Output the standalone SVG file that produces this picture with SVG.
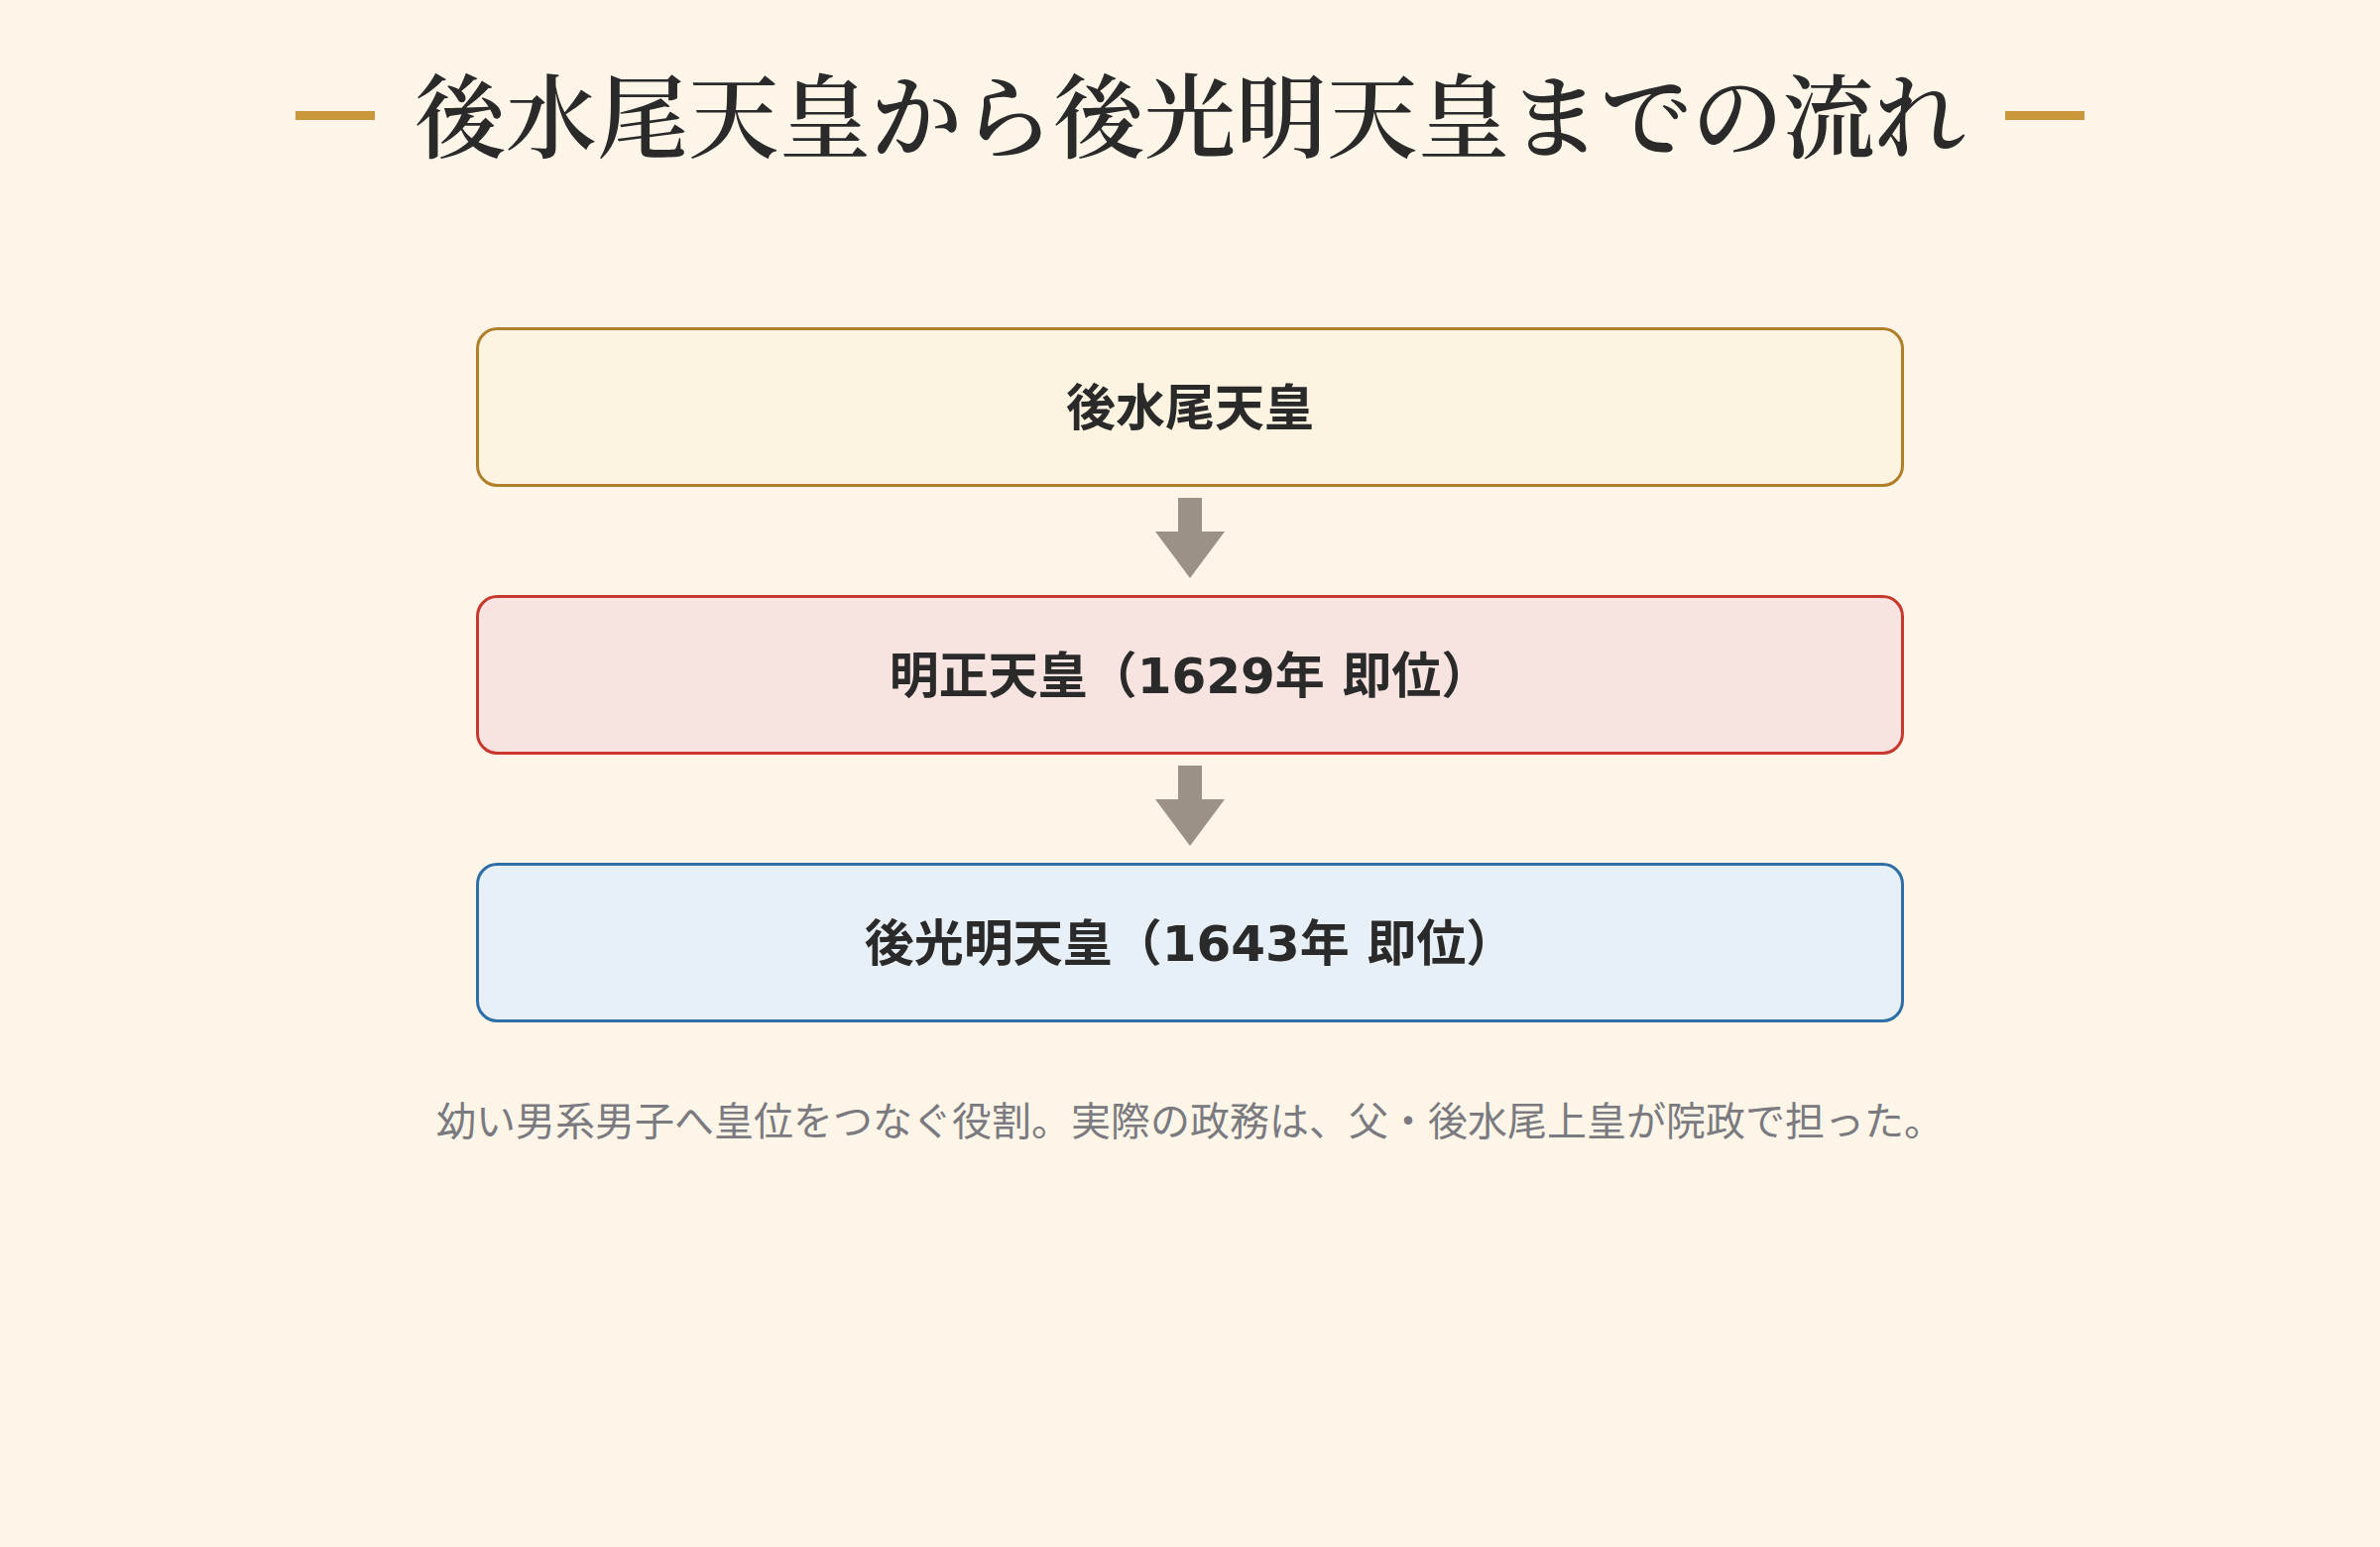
<svg xmlns="http://www.w3.org/2000/svg" width="2400" height="1560" viewBox="0 0 2400 1560">
  <style>
    .title { font-family: "Noto Serif CJK JP", "Noto Sans CJK JP", serif; font-size: 92px; font-weight: 600; fill: #2a2a2a; }
    .label { font-family: "DejaVu Sans", "Noto Sans CJK JP", sans-serif; font-size: 50px; font-weight: 700; fill: #2a2a2a; }
    .caption { font-family: "Noto Sans CJK JP", "Noto Sans", sans-serif; font-size: 40px; fill: #7a7a80; }
    .box { stroke-width: 3; }
    .arrow { fill: #9a9286; }
    .dash { fill: #c9973a; }
  </style>
  <rect x="0" y="0" width="2400" height="1560" fill="#fdf6e8"/>

  <g id="title">
    <rect class="dash" x="298" y="112" width="80" height="9"/>
    <rect class="dash" x="2022" y="112" width="80" height="9"/>
    <text class="title" x="1200" y="112" text-anchor="middle" dominant-baseline="central">後水尾天皇から後光明天皇までの流れ</text>
  </g>

  <g id="node-gomizunoo">
    <rect class="box" x="481.5" y="331.5" width="1437" height="158" rx="20" fill="#fcf3e0" stroke="#b07f2a"/>
    <text class="label" x="1200" y="412" text-anchor="middle" dominant-baseline="central">後水尾天皇</text>
  </g>

  <g id="node-meisho">
    <rect class="box" x="481.5" y="601.5" width="1437" height="158" rx="20" fill="#f7e4e1" stroke="#c8382e"/>
    <text class="label" x="1200" y="682" text-anchor="middle" dominant-baseline="central">明正天皇（1629年 即位）</text>
  </g>

  <g id="node-gokomyo">
    <rect class="box" x="481.5" y="871.5" width="1437" height="158" rx="20" fill="#e8f0f7" stroke="#2f6fa8"/>
    <text class="label" x="1200" y="952" text-anchor="middle" dominant-baseline="central">後光明天皇（1643年 即位）</text>
  </g>

  <g id="connectors">
    <rect class="arrow" x="1188" y="502" width="24" height="36"/>
    <polygon class="arrow" points="1165,536 1235,536 1200,583"/>
    <rect class="arrow" x="1188" y="772" width="24" height="36"/>
    <polygon class="arrow" points="1165,806 1235,806 1200,853"/>
  </g>

  <g id="caption">
    <text class="caption" x="1200" y="1128" text-anchor="middle" dominant-baseline="central">幼い男系男子へ皇位をつなぐ役割。実際の政務は、父・後水尾上皇が院政で担った。</text>
  </g>
</svg>
